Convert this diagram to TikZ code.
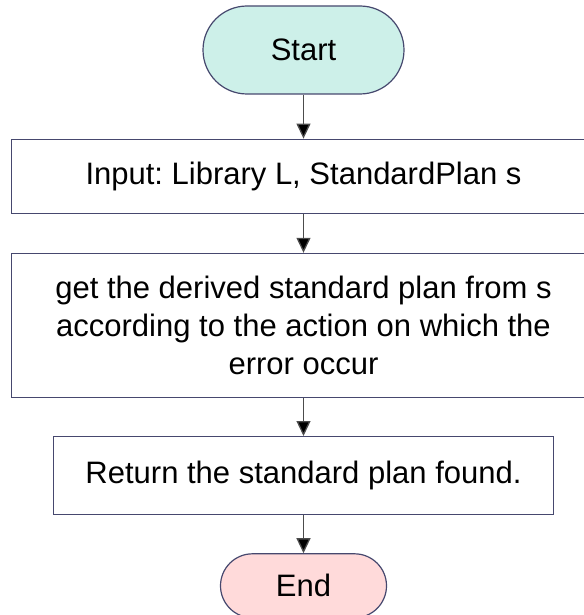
\documentclass[tikz,border=0pt]{standalone}
\usepackage{fontspec}
\setmainfont{Liberation Sans}
\usetikzlibrary{arrows.meta, positioning}
\definecolor{startfill}{RGB}{205,240,233}
\definecolor{endfill}{RGB}{255,218,218}
\definecolor{edgeblue}{RGB}{70,72,110}
\frenchspacing

\begin{document}
\begin{tikzpicture}[x=1pt, y=-1pt,
    font=\fontsize{31}{38}\selectfont,
    terminal/.style={rectangle, draw=edgeblue, line width=1.2pt, align=center, inner sep=0pt},
    process/.style={rectangle, draw=edgeblue, line width=1.2pt, align=center, inner sep=0pt},
    arrow/.style={-{Triangle[length=15pt, width=14pt, fill=black]}, line width=1.3pt, draw=black!70}
]
\useasboundingbox (0,0) rectangle (583,615);

% Knoten
\node[terminal, fill=startfill, rounded corners=44pt, minimum width=201pt, minimum height=88pt] (start) at (303.5,50) {Start};
\node[process, minimum width=584pt, minimum height=74pt, below=44pt of start] (input) {Input: Library L, StandardPlan s};
\node[process, minimum width=584pt, minimum height=144pt, below=39pt of input] (derive) {get the derived standard plan from s\\according to the action on which the\\error occur};
\node[process, minimum width=500pt, minimum height=78pt, below=38pt of derive] (found) {Return the standard plan found.};
\node[terminal, fill=endfill, rounded corners=32pt, minimum width=166pt, minimum height=64pt, below=38pt of found] (end) {End};

% Pfeile
\draw[arrow] (start) -- (input);
\draw[arrow] (input) -- (derive);
\draw[arrow] (derive) -- (found);
\draw[arrow] (found) -- (end);

\end{tikzpicture}
\end{document}
